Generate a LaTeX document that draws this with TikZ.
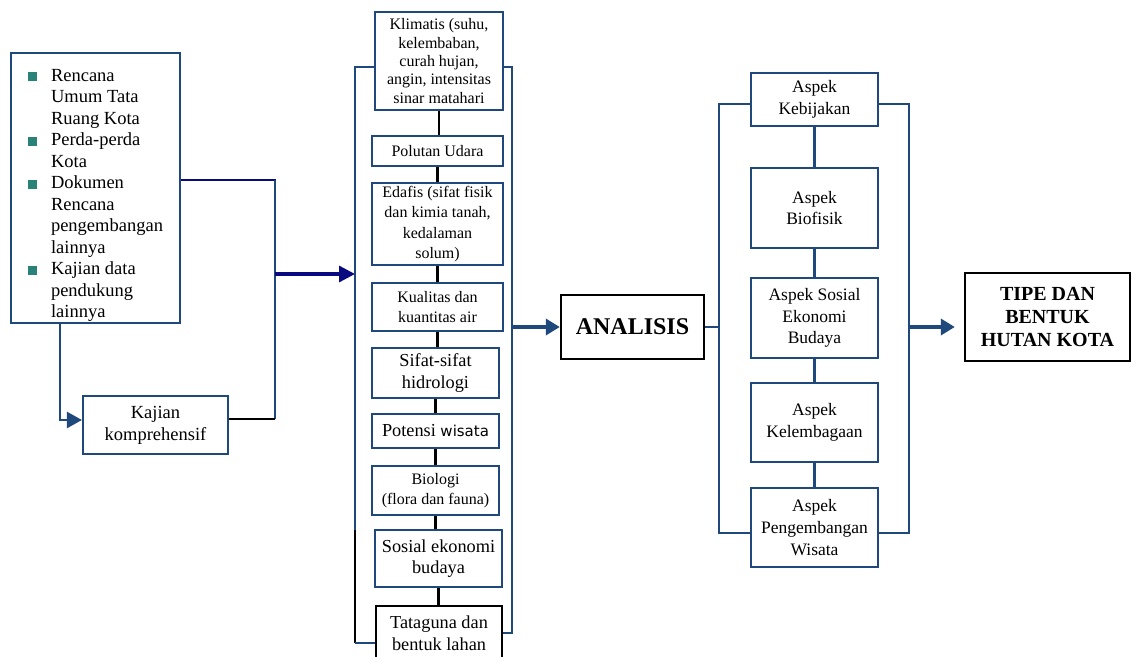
\documentclass[tikz,border=0pt]{standalone}
\usepackage{fontspec}
\setmainfont{Liberation Serif}
\newfontfamily\wsans{DejaVu Sans}
\usetikzlibrary{arrows.meta}
\definecolor{boxblue}{RGB}{31,73,125}
\definecolor{navyc}{RGB}{10,10,128}
\definecolor{bulc}{RGB}{40,130,120}
\newcommand\fA{\fontsize{16}{18.3}\selectfont}
\newcommand\fB{\fontsize{18.3}{21.5}\selectfont}
\newcommand\fC{\fontsize{17.5}{21.6}\selectfont}
\newcommand\bul{\textcolor{bulc}{\rule{9pt}{9pt}}}
\tikzset{
  x=1pt, y=-1pt,
  bbox/.style={draw=boxblue, line width=2.1pt, align=center, inner sep=0pt, fill=white},
  kbox/.style={draw=black, line width=2.1pt, align=center, inner sep=0pt, fill=white},
  bline/.style={draw=boxblue, line width=2.1pt},
  kline/.style={draw=black, line width=2.1pt},
  bigarrow/.style={draw=boxblue, line width=3.8pt, -{Triangle[length=14pt,width=16pt]}},
}
\begin{document}
\begin{tikzpicture}
\useasboundingbox (0,0) rectangle (1131,656);
% left part
\node[bbox, minimum width=169, minimum height=270, font=\fontsize{18.5}{21.5}\selectfont] (src) at (95.5,188)
 {\raisebox{-7pt}[\height][\depth]{%
 \begin{tabular}{@{}l@{\hspace{14pt}}l@{}}
 \bul & Rencana\\ & Umum Tata\\ & Ruang Kota\\
 \bul & Perda-perda\\ & Kota\\
 \bul & Dokumen\\ & Rencana\\ & pengembangan\\ & lainnya\\
 \bul & Kajian data\\ & pendukung\\ & lainnya
 \end{tabular}}};
\node[bbox, minimum width=145, minimum height=58, font=\fontsize{18.5}{21.7}\selectfont] (kaj) at (155.5,425)
 {Kajian\\komprehensif};
\coordinate (j1) at (275,274);
\draw[draw=navyc, line width=2.1pt] ([yshift=8pt]src.east) -- (src.east |- 0,180) -| (275,200);
\draw[bline] (275,180) -- (j1);
\draw[bline] (j1) -- (275,419);
\draw[kline] (275,419) -- ([yshift=6pt]kaj.east);
\draw[bline, line width=2.4pt, -{Triangle[length=15pt,width=16pt]}] (src.south -| 60,0) |- ([yshift=5pt]kaj.west);
% middle column
\node[bbox, minimum width=128, minimum height=98, font=\fA] (klim) at (439,61)
 {Klimatis (suhu,\\kelembaban,\\curah hujan,\\angin, intensitas\\sinar matahari};
\node[bbox, minimum width=131, minimum height=30, font=\fA] (pol) at (437.5,151) {Polutan Udara};
\node[bbox, minimum width=131, minimum height=82, font=\fontsize{16}{20.5}\selectfont] (eda) at (437.5,224)
 {Edafis (sifat fisik\\dan kimia tanah,\\kedalaman\\solum)};
\node[bbox, minimum width=131, minimum height=48, font=\fontsize{16}{20}\selectfont] (kual) at (437.5,307)
 {Kualitas dan\\kuantitas air};
\node[bbox, minimum width=127, minimum height=50, font=\fB] (sif) at (435.5,373) {Sifat-sifat\\hidrologi};
\node[bbox, minimum width=127, minimum height=34, font=\fB] (pot) at (435.5,431) {Potensi {\wsans\fontsize{15}{18}\selectfont wisata}};
\node[bbox, minimum width=127, minimum height=49, font=\fontsize{16}{20}\selectfont] (bio) at (435.5,490.5)
 {Biologi\\(flora dan fauna)};
\node[bbox, minimum width=127, minimum height=57, font=\fB] (sos) at (438.5,558.5) {Sosial ekonomi\\budaya};
\node[kbox, minimum width=126, minimum height=54, font=\fB] (tata) at (439,633) {Tataguna dan\\bentuk lahan};
\foreach \a/\b in {klim/pol, pol/eda, eda/kual, kual/sif, sif/pot, pot/bio, bio/sos, sos/tata}
  \draw[kline] (\a.south) -- (\a.south |- \b.north);
% middle brackets
\coordinate (mlt) at (355,67);
\coordinate (mlm) at (355,530);
\coordinate (mlb) at (355,643);
\coordinate (mrt) at (512,67);
\coordinate (mrb) at (512,633);
\coordinate (mra) at (512,327);
\draw[bline] (klim.west |- mlt) -- (mlt) -- (mlm);
\draw[kline] (mlm) -- (mlb);
\draw[bline] (mlb) -- (tata.west |- mlb);
\draw[bline] (klim.east |- mrt) -- (mrt) -- (mrb) -- (tata.east |- mrb);
\draw[draw=navyc, line width=3.2pt, -{Triangle[length=16pt,width=16pt]}] (j1) -- (j1 -| mlt);
% analisis
\node[kbox, line width=2.4pt, minimum width=143, minimum height=64, font=\fontsize{24}{28}\selectfont\bfseries] (ana) at (632.5,327)
 {ANALISIS};
\draw[bigarrow] (mra) -- (ana.west);
% aspek column
\node[bbox, minimum width=127, minimum height=53, font=\fC] (keb) at (814.5,99.5) {Aspek\\Kebijakan};
\node[bbox, minimum width=127, minimum height=80, font=\fC] (abio) at (814.5,208) {Aspek\\Biofisik};
\node[bbox, minimum width=127, minimum height=80, font=\fC] (asos) at (814.5,318) {Aspek Sosial\\Ekonomi\\Budaya};
\node[bbox, minimum width=127, minimum height=79, font=\fC] (kel) at (814.5,422.5) {Aspek\\Kelembagaan};
\node[bbox, minimum width=127, minimum height=79, font=\fC] (peng) at (814.5,527.5) {Aspek\\Pengembangan\\Wisata};
\foreach \a/\b in {keb/abio, abio/asos, asos/kel, kel/peng}
  \draw[bline] (\a.south) -- (\b.north);
\coordinate (rlt) at (719,104);
\coordinate (rlb) at (719,533);
\coordinate (rrt) at (909,104);
\coordinate (rrb) at (909,533);
\coordinate (rra) at (909,327);
\draw[bline] (keb.west |- rlt) -- (rlt) -- (rlb) -- (peng.west |- rlb);
\draw[bline] (keb.east |- rrt) -- (rrt) -- (rrb) -- (peng.east |- rrb);
\draw[bline] (ana.east) -- (ana.east -| rlt);
% result
\node[kbox, line width=2.4pt, minimum width=165, minimum height=88, font=\fontsize{20}{23}\selectfont\bfseries] (tipe) at (1047.5,317)
 {TIPE DAN\\BENTUK\\HUTAN KOTA};
\draw[bigarrow, shorten >=9pt] (rra) -- (rra -| tipe.west);
\end{tikzpicture}
\end{document}
